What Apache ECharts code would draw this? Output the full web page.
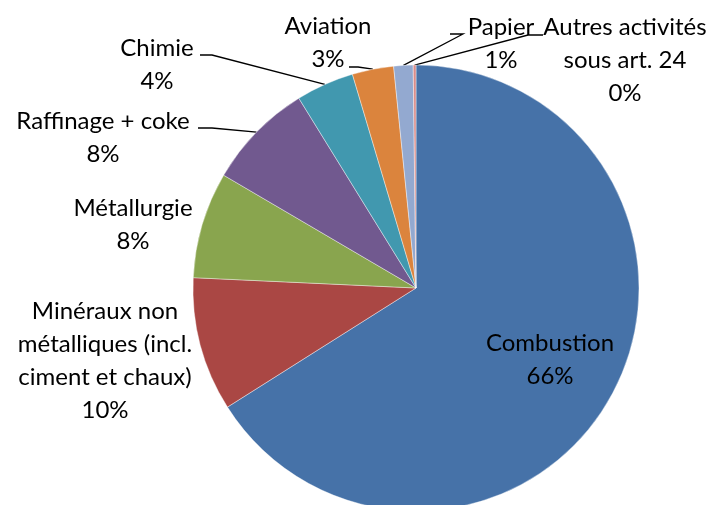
<!DOCTYPE html>
<html>
<head>
<meta charset="utf-8">
<script src="https://cdn.jsdelivr.net/npm/echarts@6/dist/echarts.min.js"></script>
<style>html,body{margin:0;padding:0;background:#fff;}#c{width:712px;height:505px;}</style>
</head>
<body>
<div id="c"></div>
<script>
var categories = ['Combustion', 'Minéraux non\nmétalliques (incl.\nciment et chaux)', 'Métallurgie', 'Raffinage + coke', 'Chimie', 'Aviation', 'Papier', 'Autres activités\nsous art. 24'];
var values = [66.0, 9.7, 7.7, 7.75, 4.2, 3.0, 1.4, 0.2];
var colors = ['#4672A8', '#AA4744', '#89A54E', '#71598F', '#4198AF', '#DB843D', '#93A9D0', '#D98D8B'];

// label placement (layout only)
var labelPos = [
  {x: 550, y: 360},
  {x: 105, y: 361},
  {x: 133, y: 225},
  {x: 103, y: 138},
  {x: 157, y: 65},
  {x: 328, y: 43},
  {x: 501, y: 44},
  {x: 625, y: 60}
];
var elbows = [
  null, null, null,
  [[212, 128], [198, 128]],
  [[212, 55], [200, 55]],
  [[358, 67], [349, 67]],
  [[463, 34], [450, 34]],
  [[528, 35], [543, 35]]
];

var chart = echarts.init(document.getElementById('c'), null, {renderer: 'canvas'});
var data = categories.map(function (c, i) {
  return {
    name: c,
    value: values[i],
    itemStyle: {color: colors[i]},
    label: {position: i === 0 ? 'inside' : 'outside'},
    labelLine: {show: elbows[i] !== null}
  };
});
chart.setOption({
  animation: false,
  series: [{
    type: 'pie',
    center: [416, 288],
    radius: 223,
    startAngle: 90,
    clockwise: true,
    avoidLabelOverlap: false,
    minShowLabelAngle: 0,
    data: data,
    itemStyle: {borderColor: '#ffffff', borderWidth: 0.4},
    emphasis: {disabled: true},
    label: {
      show: true,
      color: '#000',
      fontFamily: 'Lato',
      fontSize: 24,
      lineHeight: 33,
      align: 'center',
      formatter: function (p) { return p.name + '\n' + Math.round(p.percent) + '%'; }
    },
    labelLine: {show: true, lineStyle: {color: '#000', width: 1.3}, length: 10, length2: 10, smooth: false},
    labelLayout: function (params) {
      var i = params.dataIndex;
      var res = {x: labelPos[i].x, y: labelPos[i].y, align: 'center', verticalAlign: 'middle'};
      if (elbows[i] && params.labelLinePoints) {
        res.labelLinePoints = [params.labelLinePoints[0], elbows[i][0], elbows[i][1]];
      }
      return res;
    }
  }]
});
</script>
</body>
</html>
